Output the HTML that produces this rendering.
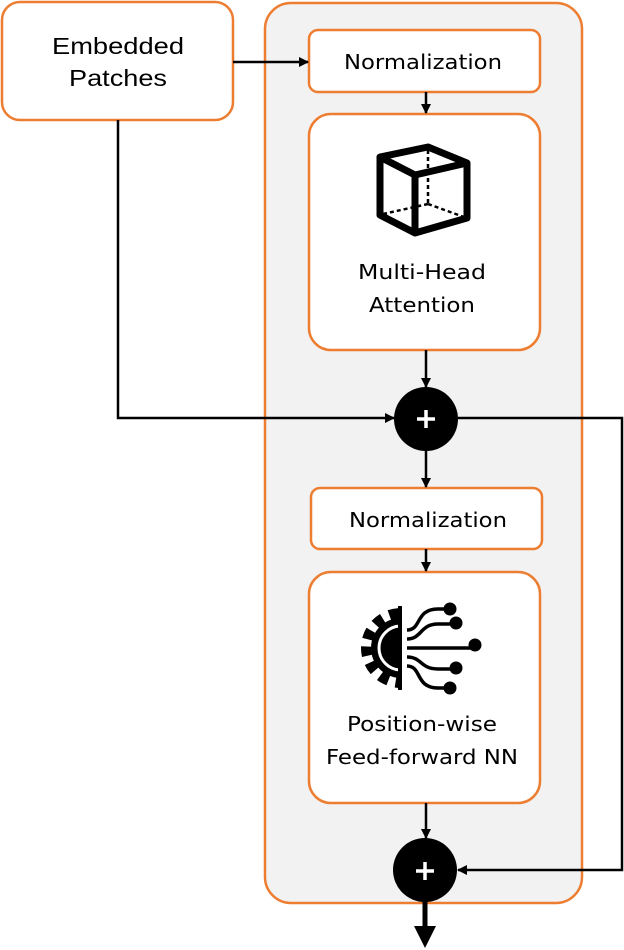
<!DOCTYPE html>
<html><head><style>html,body{margin:0;padding:0;background:#fff}svg{display:block}</style></head>
<body>
<svg width="624" height="950" viewBox="0 0 624 950" xmlns="http://www.w3.org/2000/svg">
<defs>
<marker id="a" markerWidth="10" markerHeight="10" refX="9" refY="5" orient="auto" markerUnits="userSpaceOnUse"><path d="M0,0 L10,5 L0,10 Z" fill="#000"/></marker>
<clipPath id="lh"><rect x="340" y="600" width="60" height="100"/></clipPath>
</defs>
<rect x="265" y="3" width="317" height="900" rx="26" fill="#f2f2f2" stroke="#ED7D31" stroke-width="2.5"/>
<rect x="2" y="2" width="231" height="118" rx="18" fill="#fff" stroke="#ED7D31" stroke-width="2.5"/>
<text x="118" y="54" font-family="Liberation Sans, sans-serif" font-size="23" text-anchor="middle" textLength="132" lengthAdjust="spacingAndGlyphs">Embedded</text>
<text x="118" y="86" font-family="Liberation Sans, sans-serif" font-size="23" text-anchor="middle" textLength="98" lengthAdjust="spacingAndGlyphs">Patches</text>
<rect x="309" y="30" width="231" height="62" rx="9" fill="#fff" stroke="#ED7D31" stroke-width="2.5"/>
<text x="344" y="69" font-family="DejaVu Sans, sans-serif" font-size="20" textLength="158" lengthAdjust="spacingAndGlyphs">Normalization</text>
<rect x="309" y="114" width="231" height="236" rx="22" fill="#fff" stroke="#ED7D31" stroke-width="2.5"/>
<g fill="none" stroke="#000" stroke-linejoin="round">
<path d="M380,157 L428,147 L467,163 L415,175 Z M380,157 L380,215 L415,233 L467,218 L467,163 M415,175 L415,233" stroke-width="7"/>
<path d="M428,150 L428,204 M428,204 L383,214 M428,204 L464,217" stroke-width="2.5" stroke-dasharray="4,3"/>
</g>
<text x="422" y="279" font-family="DejaVu Sans, sans-serif" font-size="20" text-anchor="middle" textLength="128" lengthAdjust="spacingAndGlyphs">Multi-Head</text>
<text x="422" y="312" font-family="DejaVu Sans, sans-serif" font-size="20" text-anchor="middle" textLength="106" lengthAdjust="spacingAndGlyphs">Attention</text>
<rect x="311" y="488" width="231" height="61" rx="9" fill="#fff" stroke="#ED7D31" stroke-width="2.5"/>
<text x="349" y="527" font-family="DejaVu Sans, sans-serif" font-size="20" textLength="158" lengthAdjust="spacingAndGlyphs">Normalization</text>
<rect x="309" y="572" width="231" height="231" rx="22" fill="#fff" stroke="#ED7D31" stroke-width="2.5"/>
<g>
<g clip-path="url(#lh)">
<circle cx="401" cy="648" r="33" fill="none" stroke="#000" stroke-width="14" stroke-dasharray="9,7"/>
<circle cx="401" cy="648" r="30" fill="#000"/>
<circle cx="401" cy="648" r="22" fill="none" stroke="#fff" stroke-width="3"/>
<circle cx="401" cy="648" r="19" fill="#000"/>
</g>
<rect x="398" y="606" width="4" height="84" fill="#000"/>
<g fill="none" stroke="#000" stroke-width="3.5">
<path d="M407,630 C422,630 415,609 438,609 L448,609"/>
<path d="M407,639 C422,639 420,624 438,624 L455,624"/>
<path d="M407,648 L475,648"/>
<path d="M407,657 C422,657 420,669 438,669 L455,669"/>
<path d="M407,666 C422,666 415,688 438,688 L448,688"/>
</g>
<g fill="#000"><circle cx="450" cy="609" r="6.5"/><circle cx="456" cy="623" r="6.5"/><circle cx="475" cy="645" r="6.5"/><circle cx="456" cy="668" r="6.5"/><circle cx="450" cy="688" r="6.5"/></g>
</g>
<text x="422" y="731" font-family="DejaVu Sans, sans-serif" font-size="20" text-anchor="middle" textLength="150" lengthAdjust="spacingAndGlyphs">Position-wise</text>
<text x="422" y="764" font-family="DejaVu Sans, sans-serif" font-size="20" text-anchor="middle" textLength="192" lengthAdjust="spacingAndGlyphs">Feed-forward NN</text>
<g stroke="#000" stroke-width="2.5" fill="none">
<path d="M233,62 L308,62" marker-end="url(#a)"/>
<path d="M426,92 L426,113" marker-end="url(#a)"/>
<path d="M118,120 L118,418 L394,418" marker-end="url(#a)"/>
<path d="M426,350 L426,387" marker-end="url(#a)"/>
<path d="M426,451 L426,487" marker-end="url(#a)"/>
<path d="M426,549 L426,571" marker-end="url(#a)"/>
<path d="M426,803 L426,838" marker-end="url(#a)"/>
<path d="M458,418 L622,418 L622,870 L458,870" marker-end="url(#a)"/>
</g>
<circle cx="426" cy="419" r="32" fill="#000"/>
<circle cx="425" cy="870" r="32" fill="#000"/>
<g stroke="#fff" stroke-width="3.5"><path d="M417,419 L435,419 M426,410 L426,428"/><path d="M416,871 L434,871 M425,862 L425,880"/></g>
<path d="M425,900 L425,928" stroke="#000" stroke-width="5"/>
<path d="M414,926 L436,926 L425,948 Z" fill="#000"/>
</svg>
</body></html>
